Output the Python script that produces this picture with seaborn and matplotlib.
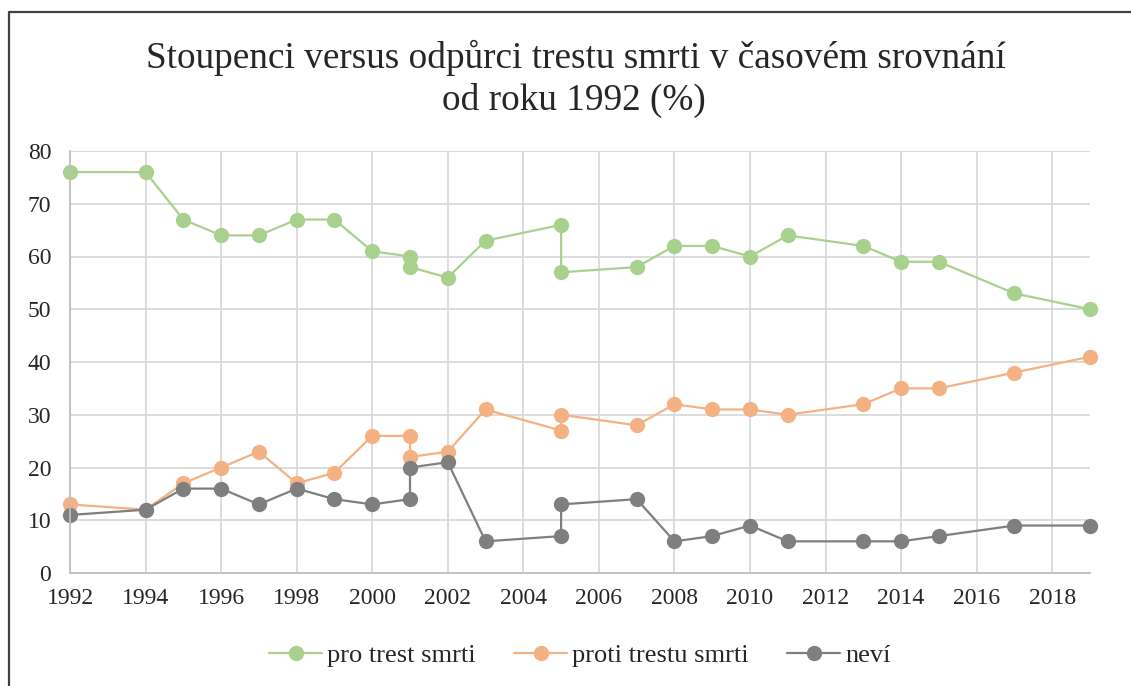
import matplotlib
matplotlib.use("Agg")
import matplotlib.pyplot as plt
import seaborn as sns
import pandas as pd
from matplotlib.lines import Line2D

# Roky (2001 a 2005 mají dvě měření)
roky = [1992, 1994, 1995, 1996, 1997, 1998, 1999, 2000, 2001, 2001, 2002, 2003,
        2005, 2005, 2007, 2008, 2009, 2010, 2011, 2013, 2014, 2015, 2017, 2019]

pro = [76, 76, 67, 64, 64, 67, 67, 61, 60, 58, 56, 63,
       66, 57, 58, 62, 62, 60, 64, 62, 59, 59, 53, 50]
proti = [13, 12, 17, 20, 23, 17, 19, 26, 26, 22, 23, 31,
         27, 30, 28, 32, 31, 31, 30, 32, 35, 35, 38, 41]
nevi = [11, 12, 16, 16, 13, 16, 14, 13, 14, 20, 21, 6,
        7, 13, 14, 6, 7, 9, 6, 6, 6, 7, 9, 9]

serie = ['pro trest smrti', 'proti trestu smrti', 'neví']
barvy = ['#A9D18E', '#F4B183', '#7F7F7F']

df = pd.concat([
    pd.DataFrame({'rok': roky, 'hodnota': vals, 'serie': name})
    for name, vals in zip(serie, [pro, proti, nevi])
], ignore_index=True)

sns.set_style('white')
plt.rcParams['font.family'] = ['Liberation Serif', 'DejaVu Serif']

fig = plt.figure(figsize=(11.31, 6.86), dpi=100)
ax = fig.add_axes([70 / 1131, 1 - 573 / 686, (1090 - 70) / 1131, (573 - 151) / 686])

sns.lineplot(data=df, x='rok', y='hodnota', hue='serie', hue_order=serie,
             palette=barvy, estimator=None, sort=False, units='serie',
             marker='o', markersize=11, markeredgewidth=0, linewidth=1.6, ax=ax)

ax.set_xlim(1992, 2019)
ax.set_ylim(0, 80)
ax.set_xticks(range(1992, 2019, 2))
ax.set_yticks(range(0, 81, 10))
ax.grid(True, color='#D9D9D9', linewidth=1.3)
ax.set_axisbelow(True)
for side in ['top', 'right']:
    ax.spines[side].set_visible(False)
for side in ['left', 'bottom']:
    ax.spines[side].set_color('#BFBFBF')
    ax.spines[side].set_linewidth(1.3)
ax.tick_params(axis='x', length=0, labelsize=17, pad=11)
ax.tick_params(axis='y', length=0, labelsize=17, pad=13.5)
ax.set_xlabel('')
ax.set_ylabel('')
for m in ax.lines:
    m.set_clip_on(False)

fig.text(576 / 1131, 1 - 58 / 686, 'Stoupenci versus odpůrci trestu smrti v časovém srovnání',
         ha='center', va='center', fontsize=26.8)
fig.text(574 / 1131, 1 - 100 / 686, 'od roku 1992 (%)', ha='center', va='center', fontsize=26.8)

ax.legend(loc='center', bbox_to_anchor=(580 / 1131, 1 - 655 / 686), bbox_transform=fig.transFigure,
          ncol=3, frameon=False, fontsize=19, handlelength=2.0, columnspacing=1.45,
          handletextpad=0.2)

# rámeček grafu (viditelná jen horní a levá hrana)
fig.lines.append(Line2D([9 / 1131, 9 / 1131, 1], [0, 1 - 12 / 686, 1 - 12 / 686],
                        transform=fig.transFigure, color='#404040', linewidth=1.6))

fig.savefig('out.png', dpi=100)
